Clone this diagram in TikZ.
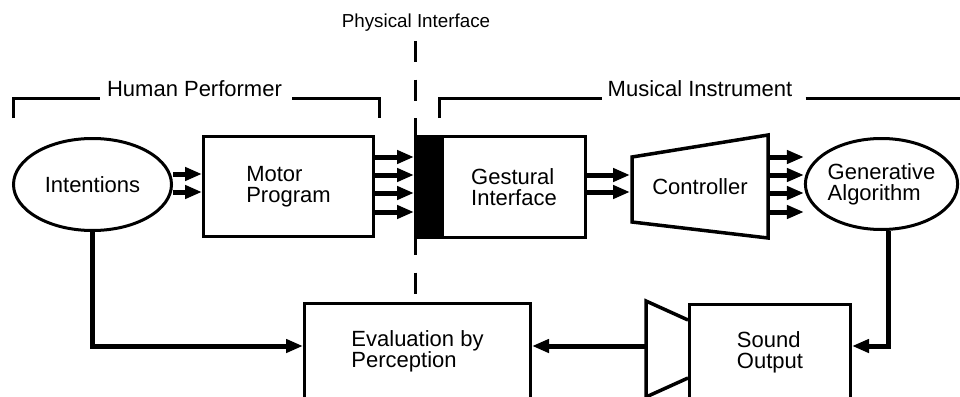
\documentclass[tikz,border=0pt]{standalone}
\usepackage{fontspec}
\setmainfont{Liberation Sans}
\usetikzlibrary{arrows.meta,shapes.geometric}

\begin{document}
\begin{tikzpicture}[x=1pt,y=-1pt,font=\fontsize{22}{21}\selectfont]
	\tikzstyle{block}=[rectangle,draw=black,line width=3pt,inner sep=0pt,align=left]
	\tikzstyle{oval}=[ellipse,draw=black,line width=3pt,inner sep=0pt,align=left]
	\tikzstyle{region}=[rectangle,inner sep=0pt,outer sep=0pt]
	\tikzstyle{group}=[anchor=base,inner xsep=0pt]
	\tikzstyle{shapeline}=[draw=black,line width=3.5pt]
	\tikzstyle{flow}=[draw=black,line width=5pt,-{Triangle[length=17pt,width=13pt]}]
	\tikzstyle{bracket}=[draw=black,line width=3pt]
	\tikzstyle{divider}=[draw=black,line width=2.5pt,dash pattern=on 21pt off 17.6pt]
	\useasboundingbox (0,0) rectangle (960,396);
	\clip (0,0) rectangle (960,396);

	\node [oval,minimum width=158pt,minimum height=92pt] (intentions) at (92.5,184.5) {Intentions};
	\node [block,minimum width=170pt,minimum height=100pt] (motor) at (288.5,186.5) {Motor\\Program};
	\node [region,fill=black,minimum width=27pt,minimum height=104pt] (bar) at (427.5,187) {};
	\node [block,minimum width=143pt,minimum height=101pt] (gestural) at (514,187) {Gestural\\Interface};
	\node [region,minimum width=136pt,minimum height=103pt] (controller) at (700,186.5) {Controller};
	\node [oval,minimum width=150pt,minimum height=91pt] (generative) at (881.5,184) {Generative\\Algorithm};
	\node [block,minimum width=226pt,minimum height=96pt] (evaluation) at (417.5,351.5) {Evaluation by\\Perception};
	\node [block,minimum width=161pt,minimum height=96pt] (sound) at (770,352.5) {Sound\\Output};
	\node [region,minimum width=42pt,minimum height=96pt] (speaker) at (667,349) {};

	\node [group] (human) at (194.5,96.5) {Human Performer};
	\node [group] (musical) at (700,96.5) {Musical Instrument};
	\node [anchor=base,font=\fontsize{18.8}{20}\selectfont] (physical) at (416,28) {Physical Interface};
	\coordinate (humanL) at (13,118);
	\coordinate (humanR) at (379,118);
	\coordinate (musicalL) at (439,118);
	\coordinate (musicalR) at (962,98);
	\coordinate (divtop) at (415.5,41);

	\path[bracket] (humanL) |- ([xshift=-7pt,yshift=-1.5pt]human.base west);
	\path[bracket] ([xshift=10pt,yshift=-1.5pt]human.base east) -| (humanR);
	\path[bracket] (musicalL) |- ([xshift=-6pt,yshift=-1.5pt]musical.base west);
	\path[bracket] ([xshift=13pt,yshift=-1.5pt]musical.base east) -- (musicalR);
	\path[divider] (divtop) -- (divtop |- evaluation.north);

	\draw[shapeline] (controller.north east) -- (controller.south east) -- ([yshift=16pt]controller.south west) -- ([yshift=-22pt]controller.north west) -- cycle;
	\draw[shapeline] ([yshift=-19pt]speaker.north east) -- (speaker.north west) -- (speaker.south west) -- ([yshift=19pt]speaker.south east);

	\path[flow] (intentions.east |- 0,174) -- (motor.west |- 0,174);
	\path[flow] (intentions.east |- 0,192) -- (motor.west |- 0,192);

	\path[flow] (motor.east |- 0,157) -- (bar.west |- 0,157);
	\path[flow] (motor.east |- 0,175) -- (bar.west |- 0,175);
	\path[flow] (motor.east |- 0,193) -- (bar.west |- 0,193);
	\path[flow] (motor.east |- 0,212) -- (bar.west |- 0,212);

	\path[flow] (gestural.east |- 0,175) -- ([xshift=-2pt]controller.west |- 0,175);
	\path[flow] (gestural.east |- 0,192) -- ([xshift=-2pt]controller.west |- 0,192);

	\path[flow] (controller.east |- 0,157) -- (generative.west |- 0,157);
	\path[flow] (controller.east |- 0,175) -- (generative.west |- 0,175);
	\path[flow] (controller.east |- 0,193) -- (generative.west |- 0,193);
	\path[flow] (controller.east |- 0,212) -- (generative.west |- 0,212);

	\path[flow] (intentions.south) |- (evaluation.west |- 0,346);
	\path[flow] ([xshift=6.5pt]generative.south) |- (sound.east |- 0,346);
	\path[flow] (speaker.west |- 0,346) -- (evaluation.east |- 0,346);
\end{tikzpicture}
\end{document}
